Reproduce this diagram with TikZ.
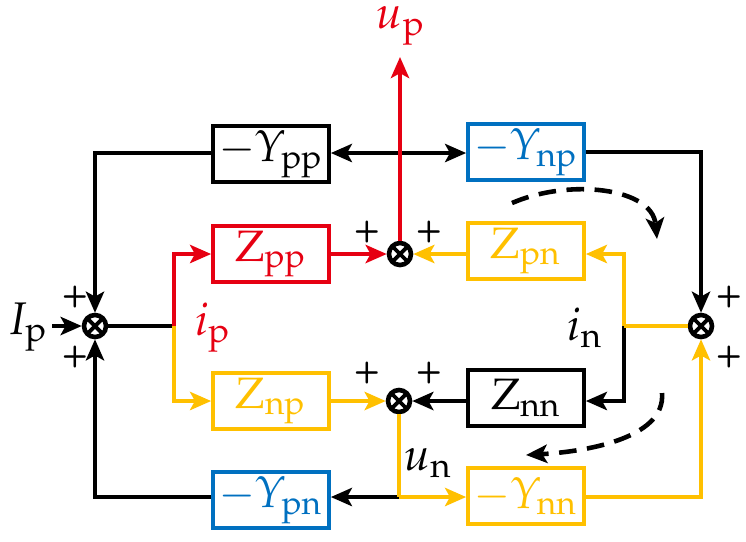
\documentclass[tikz,border=0pt]{standalone}
\usepackage[slantedGreek]{mathpazo}
\usetikzlibrary{arrows.meta,positioning}

\definecolor{cred}{RGB}{230,0,18}
\definecolor{cyellow}{RGB}{255,192,0}
\definecolor{cblue}{RGB}{0,112,192}

\begin{document}
\begin{tikzpicture}[
        x=0.01cm, y=-0.01cm,
        line width=1.05pt,
        >={Stealth[length=6pt, width=5.2pt, inset=1.4pt]},
        blk/.style={draw, minimum width=1.16cm, minimum height=0.56cm, inner sep=0pt,
            font=\fontsize{12.5}{15}\selectfont},
        junction/.style={draw, circle, minimum size=0.22cm, inner sep=0pt, line width=1.3pt,
            path picture={\draw[line width=1.1pt]
                (path picture bounding box.north west) -- (path picture bounding box.south east)
                (path picture bounding box.south west) -- (path picture bounding box.north east);}},
        lab/.style={font=\fontsize{13}{15}\selectfont},
        pls/.style={font=\fontsize{8.5}{9}\sffamily\bfseries, inner sep=0pt},
        swing/.style={->, dash pattern=on 5pt off 3pt, line width=1.3pt}
    ]

    \useasboundingbox (0,0) rectangle (746,541);

    % ---------- 方框 ----------
    \node[blk] (Ypp) at (271,154) {$-\Upsilon_{\mathrm{pp}}$};
    \node[blk, cblue] (Ynp) at (526,152) {$-\Upsilon_{\mathrm{np}}$};
    \node[blk, cred] (Zpp) at (271,254) {$\mathrm{Z}_{\mathrm{pp}}$};
    \node[blk, cyellow] (Zpn) at (526,251) {$\mathrm{Z}_{\mathrm{pn}}$};
    \node[blk, cyellow] (Znp) at (271,401) {$\mathrm{Z}_{\mathrm{np}}$};
    \node[blk] (Znn) at (526,398) {$\mathrm{Z}_{\mathrm{nn}}$};
    \node[blk, cblue] (Ypn) at (271,500) {$-\Upsilon_{\mathrm{pn}}$};
    \node[blk, cyellow] (Ynn) at (526,496) {$-\Upsilon_{\mathrm{nn}}$};

    % ---------- 求和点 ----------
    \node[junction] (sL) at (95,326) {};
    \node[junction] (sT) at (400,254) {};
    \node[junction] (sB) at (399,401) {};
    \node[junction] (sR) at (701,326) {};

    % ---------- 分支点 ----------
    \coordinate (Ip) at (52,326);
    \coordinate (up) at (400,57);
    \coordinate (splitL) at (174,326);
    \coordinate (splitR) at (624,326);
    \coordinate (splitB) at (399,497);

    % ---------- 连线 ----------
    \draw[->] (Ip) -- (sL);
    \draw (sL) -- (splitL);
    \draw[->, cred] (splitL) |- (Zpp);
    \draw[->, cyellow] (splitL) |- (Znp);

    \draw[<->] (Ypp.east |- 0,153) -- (Ynp.west |- 0,153);
    \draw[->, cred] (Zpp) -- (sT);
    \draw[->, cred] (sT) -- (up);
    \draw[->, cyellow] (Zpn.west |- sT) -- (sT);

    \draw[->] (splitR) |- (Znn.east |- sB);
    \draw[cyellow] (sR) -- (splitR);
    \draw[->, cyellow] (splitR) |- (Zpn.east |- sT);

    \draw[->] (Znn.west |- sB) -- (sB);
    \draw[->, cyellow] (Znp) -- (sB);
    \draw[->] (splitB) -- (Ypn.east |- splitB);
    \draw[cyellow] (sB) -- (splitB);
    \draw[->, cyellow] (splitB) -- (Ynn.west |- splitB);

    \draw[->, cyellow] (Ynn.east |- splitB) -| (sR);
    \draw[->] (Ynp) -| (sR);
    \draw[->] (Ypn.west |- splitB) -| (sL);
    \draw[->] (Ypp.west |- 0,153) -| (sL);

    % ---------- 虚线箭头 ----------
    \coordinate (swA) at (512,203);
    \coordinate (swB) at (657,239);
    \coordinate (swC) at (662,393);
    \coordinate (swD) at (526,455);
    \draw[swing] (swA) .. controls (570,178) and (652,188) .. (swB);
    \draw[swing] (swC) .. controls (666,440) and (580,452) .. (swD);

    % ---------- 标注 ----------
    \node[lab] (IpLab) at (28,327) {$I_{\mathrm{p}}$};
    \node[lab, cred] (upLab) at (401,26) {$u_{\mathrm{p}}$};
    \node[lab, cred] (ipLab) at (213,328) {$i_{\mathrm{p}}$};
    \node[lab] (inLab) at (585,328) {$i_{\mathrm{n}}$};
    \node[lab] (unLab) at (428,463) {$u_{\mathrm{n}}$};

    % 正号
    \foreach \px/\py [count=\k] in {75/297, 75/357, 367/232, 429/232,
                                    367/373, 429/373, 729/297, 729/357}
        \node[pls] (plus\k) at (\px,\py) {+};

\end{tikzpicture}
\end{document}
